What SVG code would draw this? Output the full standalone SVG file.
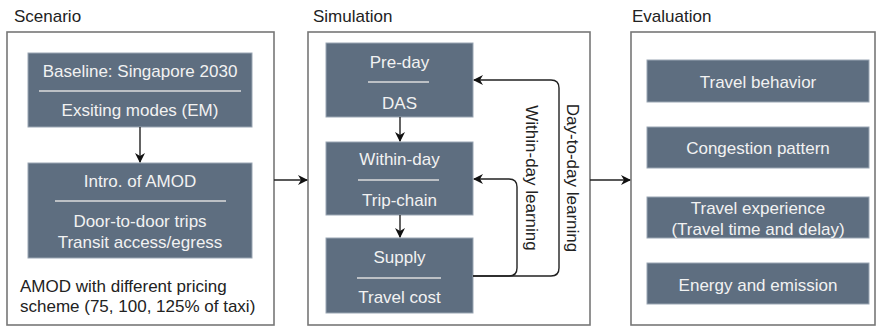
<svg xmlns="http://www.w3.org/2000/svg" width="876" height="328" viewBox="0 0 876 328">
<defs>
<marker id="arr" viewBox="0 0 10 10" refX="9" refY="5" markerWidth="10" markerHeight="10" markerUnits="userSpaceOnUse" orient="auto">
<path d="M0,0 L10,5 L0,10 L3,5 Z" fill="#111"/>
</marker>
</defs>
<style>
.frame{fill:#fff;stroke:#777;stroke-width:1.6}
.box{fill:#5e6e80;stroke:#9aa6b3;stroke-width:1}
.sep{stroke:#dcdcdc;stroke-width:1.6}
.bt{font-family:"Liberation Sans",Arial,sans-serif;font-size:17px;fill:#f2f2f2;text-anchor:middle;dominant-baseline:central}
.title{font-family:"Liberation Sans",Arial,sans-serif;font-size:17px;fill:#222}
.lbl{font-family:"Liberation Sans",Arial,sans-serif;font-size:17px;fill:#222}
.con{fill:none;stroke:#222;stroke-width:1.4}
</style>
<g id="scenario">
<text class="title" x="14" y="22">Scenario</text>
<rect class="frame" x="7" y="32" width="267" height="293"/>
<text class="lbl" x="20" y="292">AMOD with different pricing</text>
<text class="lbl" x="20" y="312">scheme (75, 100, 125% of taxi)</text>
</g>
<g id="baseline">
<rect class="box" x="28" y="53" width="224" height="74"/>
<text class="bt" x="140" y="71">Baseline: Singapore 2030</text>
<line class="sep" x1="39" y1="91" x2="241" y2="91"/>
<text class="bt" x="140" y="110">Exsiting modes (EM)</text>
</g>
<g id="amod">
<rect class="box" x="28" y="163" width="224" height="95"/>
<text class="bt" x="140" y="181">Intro. of AMOD</text>
<line class="sep" x1="55" y1="201" x2="226" y2="201"/>
<text class="bt" x="140" y="221">Door-to-door trips</text>
<text class="bt" x="140" y="242">Transit access/egress</text>
</g>
<g id="simulation">
<text class="title" x="313" y="22">Simulation</text>
<rect class="frame" x="308" y="32" width="282" height="293"/>
</g>
<g id="preday">
<rect class="box" x="326" y="43" width="147" height="74"/>
<text class="bt" x="399.5" y="62">Pre-day</text>
<line class="sep" x1="368" y1="82" x2="429" y2="82"/>
<text class="bt" x="399.5" y="103">DAS</text>
</g>
<g id="withinday">
<rect class="box" x="326" y="142" width="147" height="73"/>
<text class="bt" x="399.5" y="159">Within-day</text>
<line class="sep" x1="358" y1="180" x2="439" y2="180"/>
<text class="bt" x="399.5" y="200">Trip-chain</text>
</g>
<g id="supply">
<rect class="box" x="326" y="238" width="147" height="75"/>
<text class="bt" x="399.5" y="257">Supply</text>
<line class="sep" x1="357" y1="278" x2="441" y2="278"/>
<text class="bt" x="399.5" y="297">Travel cost</text>
</g>
<g id="evaluation">
<text class="title" x="632" y="22">Evaluation</text>
<rect class="frame" x="631" y="32" width="244" height="293"/>
</g>
<g id="behavior">
<rect class="box" x="647" y="60" width="222" height="42"/>
<text class="bt" x="758" y="82">Travel behavior</text>
</g>
<g id="congestion">
<rect class="box" x="647" y="127" width="222" height="41"/>
<text class="bt" x="758" y="148">Congestion pattern</text>
</g>
<g id="experience">
<rect class="box" x="647" y="197" width="222" height="41"/>
<text class="bt" x="758" y="208">Travel experience</text>
<text class="bt" x="758" y="229">(Travel time and delay)</text>
</g>
<g id="energy">
<rect class="box" x="647" y="263" width="222" height="41"/>
<text class="bt" x="758" y="285">Energy and emission</text>
</g>
<g id="connectors">
<path class="con" d="M140,127 L140,162" marker-end="url(#arr)"/>
<path class="con" d="M400,117 L400,141" marker-end="url(#arr)"/>
<path class="con" d="M400,215 L400,237" marker-end="url(#arr)"/>
<path class="con" d="M274,180 L307,180" marker-end="url(#arr)"/>
<path class="con" d="M590,180 L630,180" marker-end="url(#arr)"/>
<path class="con" d="M473,276 L509,276 Q517,276 517,268 L517,187 Q517,179 509,179 L474,179" marker-end="url(#arr)"/>
<path class="con" d="M473,276 L551,276 Q559,276 559,268 L559,88 Q559,80 551,80 L474,80" marker-end="url(#arr)"/>
<text class="lbl" transform="translate(531,178) rotate(90)" text-anchor="middle" dominant-baseline="central">Within-day learning</text>
<text class="lbl" transform="translate(572,178) rotate(90)" text-anchor="middle" dominant-baseline="central">Day-to-day learning</text>
</g>
</svg>
